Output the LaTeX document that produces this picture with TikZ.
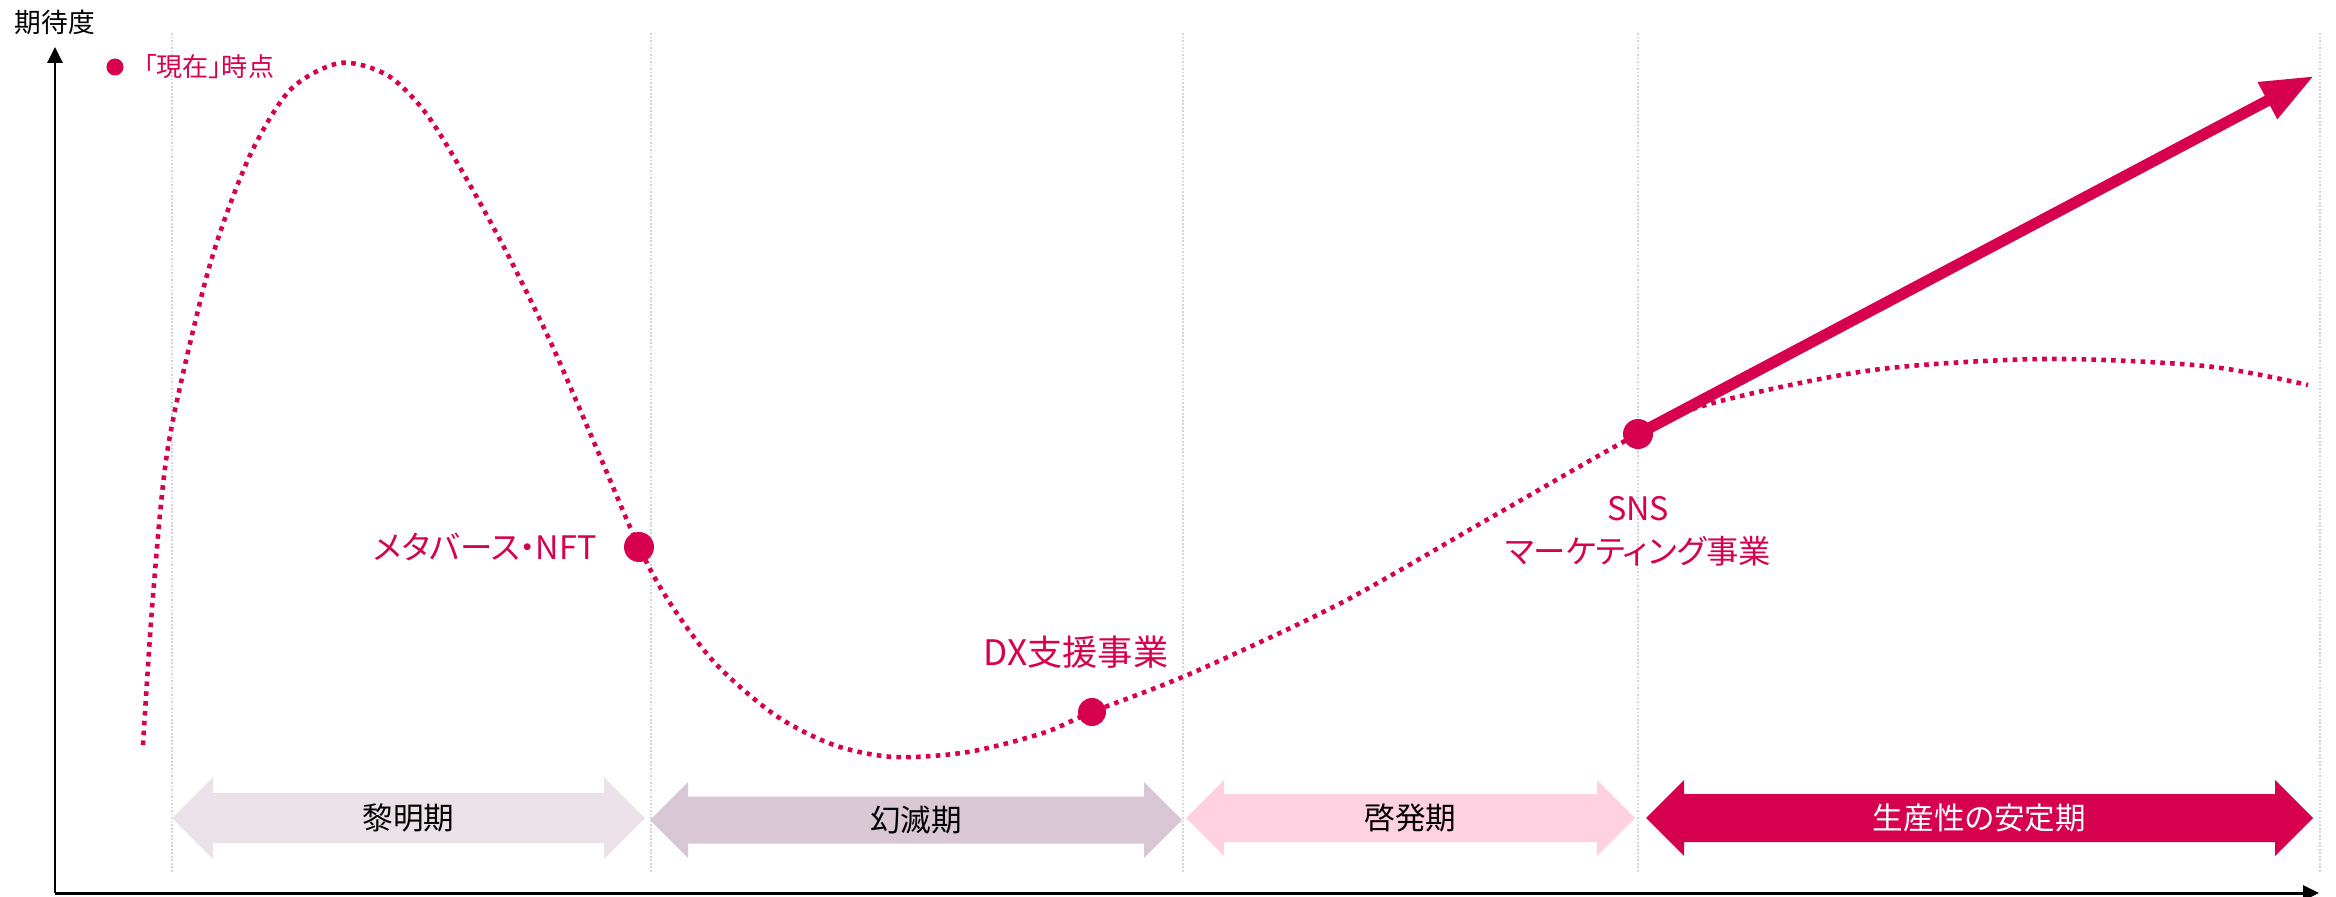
\documentclass[tikz,border=0pt]{standalone}
\usepackage{fontspec}
\setmainfont[RawFeature=+palt]{Noto Sans CJK JP}
\usetikzlibrary{arrows.meta,positioning}

\definecolor{hypered}{RGB}{214,0,79}
\definecolor{phasea}{RGB}{235,226,233}
\definecolor{phaseb}{RGB}{217,200,212}
\definecolor{phasec}{RGB}{255,209,225}
\definecolor{gridgray}{RGB}{212,212,212}

\begin{document}
\begin{tikzpicture}[x=0.01cm, y=-0.01cm,
  axis/.style = {line width=0.85pt, -{Triangle[length=4.5pt,width=4.2pt]}},
  grid line/.style = {gridgray, line width=0.35pt, dash pattern=on 0.5pt off 0.5pt},
  hype/.style = {hypered, line width=1.3pt, dash pattern=on 1.3pt off 1.5pt},
  trend/.style = {hypered, line width=3.2pt, -{Triangle[length=15pt,width=11pt]}},
  spot/.style = {circle, fill=hypered, inner sep=0pt, minimum size=0.3cm},
  spot label/.style = {text=hypered, font=\fontsize{10}{12.2}\selectfont,
    inner sep=0pt, align=center},
  phase label/.style = {font=\fontsize{8.7}{10}\selectfont, inner sep=0pt}]
  \useasboundingbox (0,0) rectangle (2336,897);

  % grid
  \foreach \gx in {172,651,1183,1638,2320}
    \draw[grid line] (\gx,33) -- (\gx,872);

  % axes
  \coordinate (origin) at (55,893);
  \coordinate (xend) at (2319,893);
  \coordinate (yend) at (55,47);
  \draw[axis] (origin) -- (xend);
  \draw[axis] (origin) -- (yend);
  \node[font=\fontsize{7.6}{9}\selectfont, inner sep=0pt] (ylabel) at (55,22) {期待度};

  % legend
  \node[spot, minimum size=0.17cm] (nowdot) at (115,67) {};
  \node[text=hypered, font=\fontsize{7.4}{9}\selectfont, inner sep=0pt,
    right=0.19cm of nowdot] (nowlabel) {「現在」時点};

  % phases
  \foreach \xa/\xb/\yc/\hh/\bh/\col/\tcol/\name/\lab in {
      172/645/818/41/25/phasea/black/dawn/黎明期,
      650/1182/820/38/23.5/phaseb/black/trough/幻滅期,
      1186/1635/818/38/24/phasec/black/slope/啓発期,
      1646/2313/818/38/24/hypered/white/plateau/生産性の安定期}
  {
    \fill[\col] (\xa,\yc) -- (\xa+\hh,\yc-\hh) -- (\xa+\hh,\yc-\bh)
      -- (\xb-\hh,\yc-\bh) -- (\xb-\hh,\yc-\hh) -- (\xb,\yc)
      -- (\xb-\hh,\yc+\hh) -- (\xb-\hh,\yc+\bh) -- (\xa+\hh,\yc+\bh)
      -- (\xa+\hh,\yc+\hh) -- cycle;
    \node[phase label, text=\tcol] (\name) at ({(\xa+\xb)/2},\yc) {\lab};
  }

  % hype curve
  \draw[hype] plot[smooth, tension=0.5] coordinates {
    (143,745) (153,596) (168,447) (201,298) (223,224) (253,149) (291,89)
    (340,63) (387,75) (425,112) (462,171) (507,253) (551,343) (596,447)
    (639,547) (670,603) (715,663) (775,715) (834,745) (894,757) (968,752)
    (1043,733) (1092,712) (1192,673) (1341,603) (1490,518) (1638,434)
    (1713,403) (1873,370) (2044,359) (2205,366) (2308,385)};

  % points
  \node[spot] (nft) at (639,547) {};
  \node[spot, minimum size=0.28cm] (dx) at (1092,712) {};
  \node[spot] (sns) at (1638,434) {};
  \coordinate (trendtip) at (2314,76);
  \draw[trend] (sns.center) -- (trendtip);

  \node[spot label, font=\fontsize{9.2}{12.2}\selectfont,
    left=0.26cm of nft] (nftlabel) {メタバース・NFT};
  \node[spot label] (dxlabel) at (1076,652) {DX支援事業};
  \node[spot label, font=\fontsize{9.2}{12.2}\selectfont]
    (snslabel) at (1638,531) {SNS\\マーケティング事業};

\end{tikzpicture}
\end{document}
